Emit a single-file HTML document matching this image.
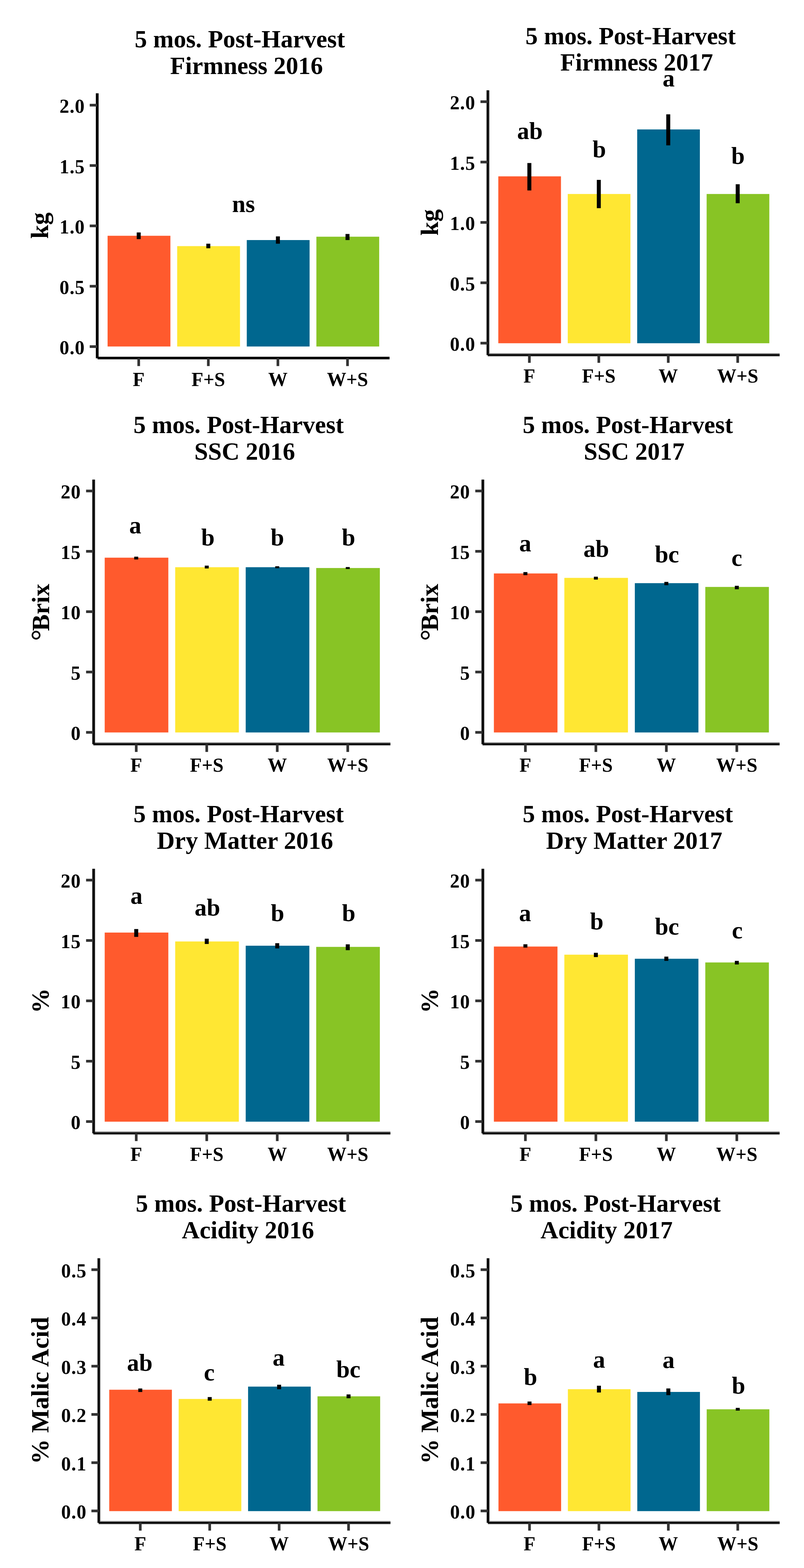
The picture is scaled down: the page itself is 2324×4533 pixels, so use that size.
<!DOCTYPE html>
<html lang="en">
<head>
<meta charset="utf-8">
<title>5 mos. Post-Harvest fruit quality, 2016 and 2017</title>
<style>
html,body{margin:0;padding:0;background:#fff;}
body{width:2324px;height:4533px;}
svg{display:block;}
text{font-family:"Liberation Serif", "DejaVu Serif", serif;font-weight:bold;fill:#000;}
.tk{font-size:56px;}
.tt{font-size:71.3px;text-anchor:middle;}
.yl{font-size:72.3px;text-anchor:middle;}
.lt{font-size:70px;text-anchor:middle;}
.deg{font-size:84px;}
.yt{text-anchor:end;letter-spacing:1.2px;}
.xt{text-anchor:middle;}
.a100{fill:#000;}
.a87{fill:#222;}
.a67{fill:#555;}
.a50{fill:#808080;}
.a35{fill:#a6a6a6;}
.a25{fill:#c4c4c4;}
.a10{fill:#ebebeb;}
.tick{stroke:#333333;stroke-width:7.7;fill:none;}
.err{stroke:#000;stroke-width:11.5;fill:none;}
.b0{fill:#FF5A2D;}
.b1{fill:#FFE733;}
.b2{fill:#00678F;}
.b3{fill:#88C425;}
</style>
</head>
<body>
<svg width="2324" height="4533" viewBox="0 0 2324 4533">
<rect x="0" y="0" width="2324" height="4533" fill="#ffffff"/>
<g id="panel1">
<rect class="b0" x="310.98" y="681.6" width="181.56" height="320.1"/>
<rect class="b1" x="512.16" y="711.5" width="181.56" height="290.2"/>
<rect class="b2" x="713.33" y="694" width="181.56" height="307.7"/>
<rect class="b3" x="914.51" y="684.3" width="181.56" height="317.4"/>
<line class="err" x1="400.96" x2="400.96" y1="672" y2="691.3"/>
<line class="err" x1="602.14" x2="602.14" y1="704.5" y2="717.7"/>
<line class="err" x1="803.31" x2="803.31" y1="683.4" y2="704.5"/>
<line class="err" x1="1004.49" x2="1004.49" y1="676.4" y2="694"/>
<rect class="a100" x="277" y="269.7" width="8" height="766"/>
<rect class="a100" x="282.05" y="1031.4" width="843.95" height="7.4"/>
<line class="tick" x1="259.35" x2="280.55" y1="1002" y2="1002"/>
<text class="tk yt" x="245.55" y="1024">0.0</text>
<line class="tick" x1="259.35" x2="280.55" y1="827.5" y2="827.5"/>
<text class="tk yt" x="245.55" y="849.5">0.5</text>
<line class="tick" x1="259.35" x2="280.55" y1="653" y2="653"/>
<text class="tk yt" x="245.55" y="675">1.0</text>
<line class="tick" x1="259.35" x2="280.55" y1="478.5" y2="478.5"/>
<text class="tk yt" x="245.55" y="500.5">1.5</text>
<line class="tick" x1="259.35" x2="280.55" y1="304" y2="304"/>
<text class="tk yt" x="245.55" y="326">2.0</text>
<line class="tick" x1="400.96" x2="400.96" y1="1035.6" y2="1058.3"/>
<text class="tk xt" x="400.96" y="1115.5">F</text>
<line class="tick" x1="602.14" x2="602.14" y1="1035.6" y2="1058.3"/>
<text class="tk xt" x="602.14" y="1115.5">F+S</text>
<line class="tick" x1="803.31" x2="803.31" y1="1035.6" y2="1058.3"/>
<text class="tk xt" x="803.31" y="1115.5">W</text>
<line class="tick" x1="1004.49" x2="1004.49" y1="1035.6" y2="1058.3"/>
<text class="tk xt" x="1004.49" y="1115.5">W+S</text>
<text class="lt" x="703.9" y="612.8">ns</text>
<text class="tt" x="693.3" y="137.1">5 mos. Post-Harvest</text>
<text class="tt" x="712.6" y="213.8">Firmness 2016</text>
<text class="yl" transform="translate(139 652.2) rotate(-90)">kg</text>
</g>
<g id="panel2">
<rect class="b0" x="1440.36" y="509.8" width="181.16" height="482.5"/>
<rect class="b1" x="1641.1" y="560.8" width="181.16" height="431.5"/>
<rect class="b2" x="1841.84" y="374.2" width="181.16" height="618.1"/>
<rect class="b3" x="2042.58" y="560.8" width="181.16" height="431.5"/>
<line class="err" x1="1530.14" x2="1530.14" y1="471.3" y2="550.6"/>
<line class="err" x1="1730.88" x2="1730.88" y1="520" y2="601.8"/>
<line class="err" x1="1931.62" x2="1931.62" y1="330.5" y2="420.3"/>
<line class="err" x1="2132.36" x2="2132.36" y1="532.6" y2="587.5"/>
<rect class="a25" x="1404.7" y="261" width="3.2" height="765.5"/>
<rect class="a67" x="1411.5" y="261" width="3.2" height="763.1"/>
<rect class="a100" x="1406.9" y="261" width="5.6" height="765.5"/>
<rect class="a50" x="1413.7" y="1021.1" width="839.9" height="4"/>
<rect class="a35" x="1409.7" y="1027.9" width="843.9" height="3.2"/>
<rect class="a100" x="1409.7" y="1024.1" width="843.9" height="4.8"/>
<rect class="a67" x="1412.5" y="1021.1" width="2.2" height="3"/>
<line class="tick" x1="1388.8" x2="1410" y1="992" y2="992"/>
<text class="tk yt" x="1374.2" y="1014">0.0</text>
<line class="tick" x1="1388.8" x2="1410" y1="817.5" y2="817.5"/>
<text class="tk yt" x="1374.2" y="839.5">0.5</text>
<line class="tick" x1="1388.8" x2="1410" y1="643" y2="643"/>
<text class="tk yt" x="1374.2" y="665">1.0</text>
<line class="tick" x1="1388.8" x2="1410" y1="468.5" y2="468.5"/>
<text class="tk yt" x="1374.2" y="490.5">1.5</text>
<line class="tick" x1="1388.8" x2="1410" y1="294" y2="294"/>
<text class="tk yt" x="1374.2" y="316">2.0</text>
<line class="tick" x1="1530.14" x2="1530.14" y1="1026.2" y2="1048.9"/>
<text class="tk xt" x="1530.14" y="1106.1">F</text>
<line class="tick" x1="1730.88" x2="1730.88" y1="1026.2" y2="1048.9"/>
<text class="tk xt" x="1730.88" y="1106.1">F+S</text>
<line class="tick" x1="1931.62" x2="1931.62" y1="1026.2" y2="1048.9"/>
<text class="tk xt" x="1931.62" y="1106.1">W</text>
<line class="tick" x1="2132.36" x2="2132.36" y1="1026.2" y2="1048.9"/>
<text class="tk xt" x="2132.36" y="1106.1">W+S</text>
<text class="lt" x="1531.6" y="401.7">ab</text>
<text class="lt" x="1732.2" y="454.5">b</text>
<text class="lt" x="1932.8" y="250.4">a</text>
<text class="lt" x="2133.3" y="473.9">b</text>
<text class="tt" x="1822.7" y="128.3">5 mos. Post-Harvest</text>
<text class="tt" x="1840.3" y="204.1">Firmness 2017</text>
<text class="yl" transform="translate(1266.1 643.1) rotate(-90)">kg</text>
</g>
<g id="panel3">
<rect class="b0" x="302.64" y="1612.2" width="183.92" height="505.3"/>
<rect class="b1" x="506.44" y="1639.8" width="183.92" height="477.7"/>
<rect class="b2" x="710.24" y="1639.8" width="183.92" height="477.7"/>
<rect class="b3" x="914.04" y="1642.1" width="183.92" height="475.4"/>
<line class="err" x1="393.8" x2="393.8" y1="1609.3" y2="1617.3"/>
<line class="err" x1="597.6" x2="597.6" y1="1635.2" y2="1643.4"/>
<line class="err" x1="801.4" x2="801.4" y1="1637" y2="1642.7"/>
<line class="err" x1="1005.2" x2="1005.2" y1="1639.3" y2="1645"/>
<rect class="a10" x="264.5" y="1386.5" width="3.45" height="764.9"/>
<rect class="a87" x="271.4" y="1386.5" width="3.4" height="762.5"/>
<rect class="a100" x="266.95" y="1386.5" width="5.45" height="764.9"/>
<rect class="a50" x="273.8" y="2146" width="854.7" height="4"/>
<rect class="a35" x="269.7" y="2152.8" width="858.8" height="3.2"/>
<rect class="a100" x="269.7" y="2149" width="858.8" height="4.8"/>
<rect class="a87" x="272.4" y="2146" width="2.4" height="3"/>
<line class="tick" x1="248.8" x2="270" y1="2117.2" y2="2117.2"/>
<text class="tk yt" x="234" y="2139.2">0</text>
<line class="tick" x1="248.8" x2="270" y1="1942.75" y2="1942.75"/>
<text class="tk yt" x="234" y="1964.75">5</text>
<line class="tick" x1="248.8" x2="270" y1="1768.3" y2="1768.3"/>
<text class="tk yt" x="234" y="1790.3">10</text>
<line class="tick" x1="248.8" x2="270" y1="1593.85" y2="1593.85"/>
<text class="tk yt" x="234" y="1615.85">15</text>
<line class="tick" x1="248.8" x2="270" y1="1419.4" y2="1419.4"/>
<text class="tk yt" x="234" y="1441.4">20</text>
<line class="tick" x1="393.8" x2="393.8" y1="2151.1" y2="2173.8"/>
<text class="tk xt" x="393.8" y="2231">F</text>
<line class="tick" x1="597.6" x2="597.6" y1="2151.1" y2="2173.8"/>
<text class="tk xt" x="597.6" y="2231">F+S</text>
<line class="tick" x1="801.4" x2="801.4" y1="2151.1" y2="2173.8"/>
<text class="tk xt" x="801.4" y="2231">W</text>
<line class="tick" x1="1005.2" x2="1005.2" y1="2151.1" y2="2173.8"/>
<text class="tk xt" x="1005.2" y="2231">W+S</text>
<text class="lt" x="390.9" y="1541.6">a</text>
<text class="lt" x="601" y="1576.8">b</text>
<text class="lt" x="801.6" y="1576.8">b</text>
<text class="lt" x="1007.4" y="1576.8">b</text>
<text class="tt" x="689.7" y="1252.4">5 mos. Post-Harvest</text>
<text class="tt" x="707.3" y="1328.6">SSC 2016</text>
<text class="yl" transform="translate(141.5 1770.4) rotate(-90)"><tspan class="deg" dy="6.8">°</tspan><tspan dy="-6.8" dx="-4.7">Brix</tspan></text>
</g>
<g id="panel4">
<rect class="b0" x="1427.59" y="1657.8" width="183.83" height="459.7"/>
<rect class="b1" x="1631.29" y="1670.6" width="183.83" height="446.9"/>
<rect class="b2" x="1834.99" y="1685.9" width="183.83" height="431.6"/>
<rect class="b3" x="2038.68" y="1696.8" width="183.83" height="420.7"/>
<line class="err" x1="1518.7" x2="1518.7" y1="1653.8" y2="1662.8"/>
<line class="err" x1="1722.4" x2="1722.4" y1="1667.2" y2="1675.5"/>
<line class="err" x1="1926.1" x2="1926.1" y1="1682.2" y2="1691.8"/>
<line class="err" x1="2129.8" x2="2129.8" y1="1693.5" y2="1703.5"/>
<rect class="a10" x="1389.5" y="1386.5" width="3.45" height="764.9"/>
<rect class="a87" x="1396.4" y="1386.5" width="3.4" height="762.5"/>
<rect class="a100" x="1391.95" y="1386.5" width="5.45" height="764.9"/>
<rect class="a50" x="1398.8" y="2146" width="854.7" height="4"/>
<rect class="a35" x="1394.7" y="2152.8" width="858.8" height="3.2"/>
<rect class="a100" x="1394.7" y="2149" width="858.8" height="4.8"/>
<rect class="a87" x="1397.4" y="2146" width="2.4" height="3"/>
<line class="tick" x1="1373.8" x2="1395" y1="2117.2" y2="2117.2"/>
<text class="tk yt" x="1359" y="2139.2">0</text>
<line class="tick" x1="1373.8" x2="1395" y1="1942.75" y2="1942.75"/>
<text class="tk yt" x="1359" y="1964.75">5</text>
<line class="tick" x1="1373.8" x2="1395" y1="1768.3" y2="1768.3"/>
<text class="tk yt" x="1359" y="1790.3">10</text>
<line class="tick" x1="1373.8" x2="1395" y1="1593.85" y2="1593.85"/>
<text class="tk yt" x="1359" y="1615.85">15</text>
<line class="tick" x1="1373.8" x2="1395" y1="1419.4" y2="1419.4"/>
<text class="tk yt" x="1359" y="1441.4">20</text>
<line class="tick" x1="1518.7" x2="1518.7" y1="2151.1" y2="2173.8"/>
<text class="tk xt" x="1518.7" y="2231">F</text>
<line class="tick" x1="1722.4" x2="1722.4" y1="2151.1" y2="2173.8"/>
<text class="tk xt" x="1722.4" y="2231">F+S</text>
<line class="tick" x1="1926.1" x2="1926.1" y1="2151.1" y2="2173.8"/>
<text class="tk xt" x="1926.1" y="2231">W</text>
<line class="tick" x1="2129.8" x2="2129.8" y1="2151.1" y2="2173.8"/>
<text class="tk xt" x="2129.8" y="2231">W+S</text>
<text class="lt" x="1518.3" y="1593.6">a</text>
<text class="lt" x="1723.5" y="1609.7">ab</text>
<text class="lt" x="1927.9" y="1625.7">bc</text>
<text class="lt" x="2129.8" y="1636.1">c</text>
<text class="tt" x="1814.8" y="1252.4">5 mos. Post-Harvest</text>
<text class="tt" x="1833" y="1328.6">SSC 2017</text>
<text class="yl" transform="translate(1266.3 1770.3) rotate(-90)"><tspan class="deg" dy="6.8">°</tspan><tspan dy="-6.8" dx="-4.7">Brix</tspan></text>
</g>
<g id="panel5">
<rect class="b0" x="302.64" y="2696" width="183.92" height="546.7"/>
<rect class="b1" x="506.44" y="2721.7" width="183.92" height="521"/>
<rect class="b2" x="710.24" y="2734" width="183.92" height="508.7"/>
<rect class="b3" x="914.04" y="2737.4" width="183.92" height="505.3"/>
<line class="err" x1="393.8" x2="393.8" y1="2685.8" y2="2708.5"/>
<line class="err" x1="597.6" x2="597.6" y1="2713.7" y2="2729"/>
<line class="err" x1="801.4" x2="801.4" y1="2726.7" y2="2741.8"/>
<line class="err" x1="1005.2" x2="1005.2" y1="2730" y2="2746.9"/>
<rect class="a10" x="264.5" y="2511.6" width="3.45" height="764.8"/>
<rect class="a87" x="271.4" y="2511.6" width="3.4" height="762.4"/>
<rect class="a100" x="266.95" y="2511.6" width="5.45" height="764.8"/>
<rect class="a50" x="273.8" y="3271" width="854.7" height="4"/>
<rect class="a35" x="269.7" y="3277.8" width="858.8" height="3.2"/>
<rect class="a100" x="269.7" y="3274" width="858.8" height="4.8"/>
<rect class="a87" x="272.4" y="3271" width="2.4" height="3"/>
<line class="tick" x1="248.8" x2="270" y1="3242.3" y2="3242.3"/>
<text class="tk yt" x="234" y="3264.3">0</text>
<line class="tick" x1="248.8" x2="270" y1="3067.83" y2="3067.83"/>
<text class="tk yt" x="234" y="3089.83">5</text>
<line class="tick" x1="248.8" x2="270" y1="2893.35" y2="2893.35"/>
<text class="tk yt" x="234" y="2915.35">10</text>
<line class="tick" x1="248.8" x2="270" y1="2718.88" y2="2718.88"/>
<text class="tk yt" x="234" y="2740.88">15</text>
<line class="tick" x1="248.8" x2="270" y1="2544.4" y2="2544.4"/>
<text class="tk yt" x="234" y="2566.4">20</text>
<line class="tick" x1="393.8" x2="393.8" y1="3276.1" y2="3298.8"/>
<text class="tk xt" x="393.8" y="3356">F</text>
<line class="tick" x1="597.6" x2="597.6" y1="3276.1" y2="3298.8"/>
<text class="tk xt" x="597.6" y="3356">F+S</text>
<line class="tick" x1="801.4" x2="801.4" y1="3276.1" y2="3298.8"/>
<text class="tk xt" x="801.4" y="3356">W</text>
<line class="tick" x1="1005.2" x2="1005.2" y1="3276.1" y2="3298.8"/>
<text class="tk xt" x="1005.2" y="3356">W+S</text>
<text class="lt" x="394.5" y="2612.8">a</text>
<text class="lt" x="599.4" y="2647">ab</text>
<text class="lt" x="802.2" y="2662.5">b</text>
<text class="lt" x="1008" y="2662.5">b</text>
<text class="tt" x="689.7" y="2376.9">5 mos. Post-Harvest</text>
<text class="tt" x="708.3" y="2453.9">Dry Matter 2016</text>
<text class="yl" transform="translate(140.5 2893.1) rotate(-90)">%</text>
</g>
<g id="panel6">
<rect class="b0" x="1427.59" y="2736.4" width="183.83" height="506.3"/>
<rect class="b1" x="1631.29" y="2759.9" width="183.83" height="482.8"/>
<rect class="b2" x="1834.99" y="2771.7" width="183.83" height="471"/>
<rect class="b3" x="2038.68" y="2782.4" width="183.83" height="460.3"/>
<line class="err" x1="1518.7" x2="1518.7" y1="2729.8" y2="2739.5"/>
<line class="err" x1="1722.4" x2="1722.4" y1="2754.5" y2="2766.8"/>
<line class="err" x1="1926.1" x2="1926.1" y1="2765.5" y2="2777.8"/>
<line class="err" x1="2129.8" x2="2129.8" y1="2777.8" y2="2788.2"/>
<rect class="a10" x="1389.5" y="2511.6" width="3.45" height="764.8"/>
<rect class="a87" x="1396.4" y="2511.6" width="3.4" height="762.4"/>
<rect class="a100" x="1391.95" y="2511.6" width="5.45" height="764.8"/>
<rect class="a50" x="1398.8" y="3271" width="854.7" height="4"/>
<rect class="a35" x="1394.7" y="3277.8" width="858.8" height="3.2"/>
<rect class="a100" x="1394.7" y="3274" width="858.8" height="4.8"/>
<rect class="a87" x="1397.4" y="3271" width="2.4" height="3"/>
<line class="tick" x1="1373.8" x2="1395" y1="3242.3" y2="3242.3"/>
<text class="tk yt" x="1359" y="3264.3">0</text>
<line class="tick" x1="1373.8" x2="1395" y1="3067.83" y2="3067.83"/>
<text class="tk yt" x="1359" y="3089.83">5</text>
<line class="tick" x1="1373.8" x2="1395" y1="2893.35" y2="2893.35"/>
<text class="tk yt" x="1359" y="2915.35">10</text>
<line class="tick" x1="1373.8" x2="1395" y1="2718.88" y2="2718.88"/>
<text class="tk yt" x="1359" y="2740.88">15</text>
<line class="tick" x1="1373.8" x2="1395" y1="2544.4" y2="2544.4"/>
<text class="tk yt" x="1359" y="2566.4">20</text>
<line class="tick" x1="1518.7" x2="1518.7" y1="3276.1" y2="3298.8"/>
<text class="tk xt" x="1518.7" y="3356">F</text>
<line class="tick" x1="1722.4" x2="1722.4" y1="3276.1" y2="3298.8"/>
<text class="tk xt" x="1722.4" y="3356">F+S</text>
<line class="tick" x1="1926.1" x2="1926.1" y1="3276.1" y2="3298.8"/>
<text class="tk xt" x="1926.1" y="3356">W</text>
<line class="tick" x1="2129.8" x2="2129.8" y1="3276.1" y2="3298.8"/>
<text class="tk xt" x="2129.8" y="3356">W+S</text>
<text class="lt" x="1517.8" y="2663.2">a</text>
<text class="lt" x="1725" y="2686.6">b</text>
<text class="lt" x="1927.9" y="2701.7">bc</text>
<text class="lt" x="2131" y="2713.2">c</text>
<text class="tt" x="1814.8" y="2376.9">5 mos. Post-Harvest</text>
<text class="tt" x="1833.3" y="2453.9">Dry Matter 2017</text>
<text class="yl" transform="translate(1265.8 2893.1) rotate(-90)">%</text>
</g>
<g id="panel7">
<rect class="b0" x="315.75" y="4017.6" width="181.1" height="351"/>
<rect class="b1" x="516.42" y="4044.3" width="181.1" height="324.3"/>
<rect class="b2" x="717.08" y="4008.6" width="181.1" height="360"/>
<rect class="b3" x="917.75" y="4036.7" width="181.1" height="331.9"/>
<line class="err" x1="405.5" x2="405.5" y1="4014" y2="4024.2"/>
<line class="err" x1="606.17" x2="606.17" y1="4038.8" y2="4049.3"/>
<line class="err" x1="806.83" x2="806.83" y1="4003.2" y2="4016.2"/>
<line class="err" x1="1007.5" x2="1007.5" y1="4031.2" y2="4042.2"/>
<rect class="a25" x="280.1" y="3637.5" width="3.2" height="765"/>
<rect class="a67" x="286.9" y="3637.5" width="3.2" height="762.6"/>
<rect class="a100" x="282.3" y="3637.5" width="5.6" height="765"/>
<rect class="a50" x="289.1" y="4397.1" width="839.6" height="4"/>
<rect class="a35" x="285.1" y="4403.9" width="843.6" height="3.2"/>
<rect class="a100" x="285.1" y="4400.1" width="843.6" height="4.8"/>
<rect class="a67" x="287.9" y="4397.1" width="2.2" height="3"/>
<line class="tick" x1="264.2" x2="285.4" y1="4368" y2="4368"/>
<text class="tk yt" x="250.4" y="4390">0.0</text>
<line class="tick" x1="264.2" x2="285.4" y1="4228.52" y2="4228.52"/>
<text class="tk yt" x="250.4" y="4250.52">0.1</text>
<line class="tick" x1="264.2" x2="285.4" y1="4089.04" y2="4089.04"/>
<text class="tk yt" x="250.4" y="4111.04">0.2</text>
<line class="tick" x1="264.2" x2="285.4" y1="3949.56" y2="3949.56"/>
<text class="tk yt" x="250.4" y="3971.56">0.3</text>
<line class="tick" x1="264.2" x2="285.4" y1="3810.08" y2="3810.08"/>
<text class="tk yt" x="250.4" y="3832.08">0.4</text>
<line class="tick" x1="264.2" x2="285.4" y1="3670.6" y2="3670.6"/>
<text class="tk yt" x="250.4" y="3692.6">0.5</text>
<line class="tick" x1="405.5" x2="405.5" y1="4402.2" y2="4424.9"/>
<text class="tk xt" x="405.5" y="4482.1">F</text>
<line class="tick" x1="606.17" x2="606.17" y1="4402.2" y2="4424.9"/>
<text class="tk xt" x="606.17" y="4482.1">F+S</text>
<line class="tick" x1="806.83" x2="806.83" y1="4402.2" y2="4424.9"/>
<text class="tk xt" x="806.83" y="4482.1">W</text>
<line class="tick" x1="1007.5" x2="1007.5" y1="4402.2" y2="4424.9"/>
<text class="tk xt" x="1007.5" y="4482.1">W+S</text>
<text class="lt" x="403.9" y="3963.4">ab</text>
<text class="lt" x="604.7" y="3990.5">c</text>
<text class="lt" x="805.4" y="3948.2">a</text>
<text class="lt" x="1006.9" y="3981.9">bc</text>
<text class="tt" x="696.2" y="3503">5 mos. Post-Harvest</text>
<text class="tt" x="716.7" y="3579.7">Acidity 2016</text>
<text class="yl" transform="translate(140.2 4019.8) rotate(-90)">% Malic Acid</text>
</g>
<g id="panel8">
<rect class="b0" x="1440.85" y="4057.2" width="181.08" height="311.4"/>
<rect class="b1" x="1641.49" y="4016.1" width="181.08" height="352.5"/>
<rect class="b2" x="1842.13" y="4024" width="181.08" height="344.6"/>
<rect class="b3" x="2042.77" y="4074.2" width="181.08" height="294.4"/>
<line class="err" x1="1530.59" x2="1530.59" y1="4051.7" y2="4061.9"/>
<line class="err" x1="1731.23" x2="1731.23" y1="4006" y2="4025.6"/>
<line class="err" x1="1931.87" x2="1931.87" y1="4013.9" y2="4033.3"/>
<line class="err" x1="2132.51" x2="2132.51" y1="4070" y2="4078"/>
<rect class="a25" x="1405.2" y="3637.5" width="3.2" height="765"/>
<rect class="a67" x="1412" y="3637.5" width="3.2" height="762.6"/>
<rect class="a100" x="1407.4" y="3637.5" width="5.6" height="765"/>
<rect class="a50" x="1414.2" y="4397.1" width="839.5" height="4"/>
<rect class="a35" x="1410.2" y="4403.9" width="843.5" height="3.2"/>
<rect class="a100" x="1410.2" y="4400.1" width="843.5" height="4.8"/>
<rect class="a67" x="1413" y="4397.1" width="2.2" height="3"/>
<line class="tick" x1="1389.3" x2="1410.5" y1="4368" y2="4368"/>
<text class="tk yt" x="1374.7" y="4390">0.0</text>
<line class="tick" x1="1389.3" x2="1410.5" y1="4228.52" y2="4228.52"/>
<text class="tk yt" x="1374.7" y="4250.52">0.1</text>
<line class="tick" x1="1389.3" x2="1410.5" y1="4089.04" y2="4089.04"/>
<text class="tk yt" x="1374.7" y="4111.04">0.2</text>
<line class="tick" x1="1389.3" x2="1410.5" y1="3949.56" y2="3949.56"/>
<text class="tk yt" x="1374.7" y="3971.56">0.3</text>
<line class="tick" x1="1389.3" x2="1410.5" y1="3810.08" y2="3810.08"/>
<text class="tk yt" x="1374.7" y="3832.08">0.4</text>
<line class="tick" x1="1389.3" x2="1410.5" y1="3670.6" y2="3670.6"/>
<text class="tk yt" x="1374.7" y="3692.6">0.5</text>
<line class="tick" x1="1530.59" x2="1530.59" y1="4402.2" y2="4424.9"/>
<text class="tk xt" x="1530.59" y="4482.1">F</text>
<line class="tick" x1="1731.23" x2="1731.23" y1="4402.2" y2="4424.9"/>
<text class="tk xt" x="1731.23" y="4482.1">F+S</text>
<line class="tick" x1="1931.87" x2="1931.87" y1="4402.2" y2="4424.9"/>
<text class="tk xt" x="1931.87" y="4482.1">W</text>
<line class="tick" x1="2132.51" x2="2132.51" y1="4402.2" y2="4424.9"/>
<text class="tk xt" x="2132.51" y="4482.1">W+S</text>
<text class="lt" x="1533.4" y="4004.4">b</text>
<text class="lt" x="1731.8" y="3954.3">a</text>
<text class="lt" x="1932.5" y="3954.5">a</text>
<text class="lt" x="2134.8" y="4028.7">b</text>
<text class="tt" x="1779.4" y="3503">5 mos. Post-Harvest</text>
<text class="tt" x="1753.3" y="3579.7">Acidity 2017</text>
<text class="yl" transform="translate(1265.8 4019.4) rotate(-90)">% Malic Acid</text>
</g>
</svg>
</body>
</html>
